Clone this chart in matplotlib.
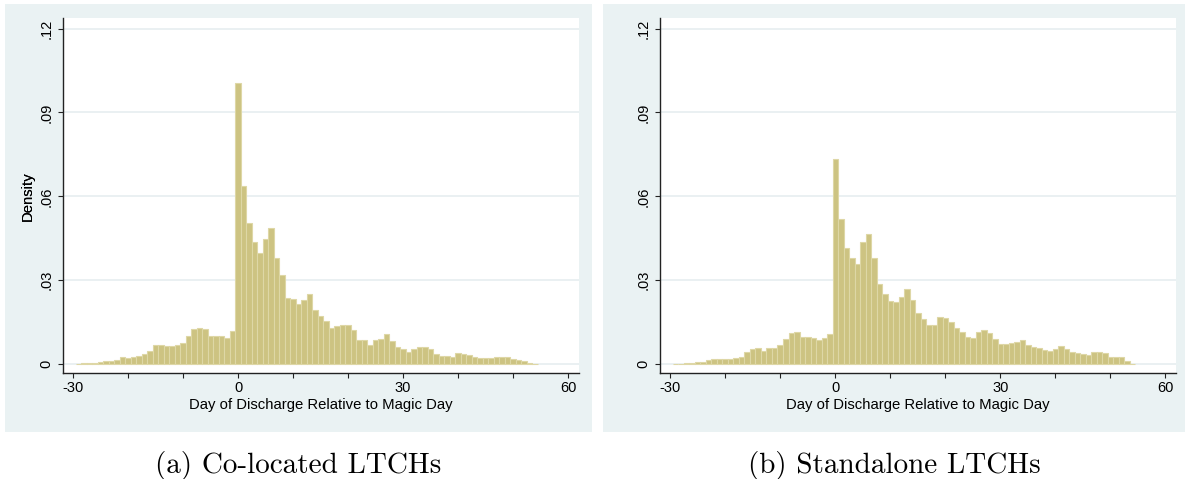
import numpy as np
import matplotlib.pyplot as plt
from matplotlib.patches import Rectangle

# days relative to magic day (bin centres)
days = list(range(-29, 55))

colocated = [
    0.0002, 0.0003, 0.0004, 0.0005, 0.0007, 0.00095, 0.0012, 0.0014, 0.0024, 0.0021,
    0.0025, 0.0030, 0.0035, 0.0048, 0.0068, 0.0069, 0.0063, 0.0063, 0.0067, 0.0074,
    0.0102, 0.0125, 0.0129, 0.0124, 0.0100, 0.0102, 0.0099, 0.0093, 0.0118,
    0.1007, 0.0638, 0.0505, 0.0438, 0.0399, 0.0448, 0.0486, 0.0381, 0.0317, 0.0238,
    0.0232, 0.0214, 0.0231, 0.0249, 0.0192, 0.0173, 0.0155, 0.0129, 0.0135, 0.0140,
    0.0140, 0.0122, 0.0087, 0.0087, 0.0069, 0.0085, 0.0091, 0.0106, 0.0084, 0.0061,
    0.0054, 0.0043, 0.0053, 0.0062, 0.0061, 0.0054, 0.0037, 0.0030, 0.0030, 0.0025,
    0.0041, 0.0037, 0.0032, 0.0025, 0.0022, 0.0020, 0.0020, 0.0025, 0.0027, 0.0024,
    0.0019, 0.0014, 0.0011, 0.0004, 0.0001,
]

standalone = [
    0.0001, 0.0002, 0.0004, 0.0004, 0.0006, 0.0008, 0.0013, 0.0017, 0.0018, 0.0018,
    0.0018, 0.0023, 0.0026, 0.0042, 0.0055, 0.0058, 0.0048, 0.0058, 0.0058, 0.0069,
    0.0089, 0.0111, 0.0115, 0.0098, 0.0096, 0.0094, 0.0086, 0.0094, 0.0108,
    0.0732, 0.0520, 0.0415, 0.0380, 0.0358, 0.0438, 0.0464, 0.0380, 0.0287, 0.0251,
    0.0225, 0.0221, 0.0239, 0.0269, 0.0228, 0.0184, 0.0161, 0.0140, 0.0140, 0.0169,
    0.0164, 0.0151, 0.0128, 0.0114, 0.0098, 0.0092, 0.0114, 0.0121, 0.0110, 0.0088,
    0.0072, 0.0072, 0.0076, 0.0079, 0.0085, 0.0069, 0.0061, 0.0057, 0.0049, 0.0047,
    0.0053, 0.0063, 0.0055, 0.0043, 0.0038, 0.0036, 0.0032, 0.0042, 0.0042, 0.0041,
    0.0027, 0.0024, 0.0025, 0.0010, 0.0002,
]

yticks = [0, 0.03, 0.06, 0.09, 0.12]
ytick_labels = ["0", ".03", ".06", ".09", ".12"]
xticks = list(range(-30, 61, 10))
xtick_labels = ["-30", "", "", "0", "", "", "30", "", "", "60"]
captions = ["(a) Co-located LTCHs", "(b) Standalone LTCHs"]

W, H = 1185, 479
bg = "#eaf2f3"
bar_fill = "#cdc382"
bar_edge = "#ded7a6"

fig = plt.figure(figsize=(W / 100, H / 100), dpi=100)

def px_rect(x0, y0, x1, y1):
    # pixel box (top-left origin) -> figure fraction [left, bottom, w, h]
    return [x0 / W, 1 - y1 / H, (x1 - x0) / W, (y1 - y0) / H]

panels = [
    dict(bg=(5, 4, 592, 432), ax=(63, 18, 579, 373.3), data=colocated, cap_x=298),
    dict(bg=(603, 4, 1185, 432), ax=(660, 18, 1176.5, 373.3), data=standalone, cap_x=894),
]

for p, cap in zip(panels, captions):
    l, b, w, h = px_rect(*p["bg"])
    fig.patches.append(Rectangle((l, b), w, h, transform=fig.transFigure,
                                 facecolor=bg, edgecolor="none", zorder=-10))
    ax = fig.add_axes(px_rect(*p["ax"]))
    ax.set_zorder(1)
    ax.set_facecolor("white")
    ax.bar(days, p["data"], width=1.0, color=bar_fill, edgecolor=bar_edge, linewidth=0.8)
    ax.set_xlim(-31.85, 62)
    ax.set_ylim(-0.0033, 0.1238)
    ax.set_axisbelow(True)
    ax.yaxis.grid(True, color="#e6eef0", linewidth=1.2)
    ax.set_yticks(yticks)
    ax.set_yticklabels(ytick_labels, rotation=90, va="center",
                       family="Liberation Sans", fontsize=10.5)
    ax.set_xticks(xticks)
    ax.set_xticklabels(xtick_labels, family="Liberation Sans", fontsize=10.5)
    ax.tick_params(direction="out", length=3.6, width=0.8, color="#222222", pad=2)
    ax.tick_params(axis="y", pad=3)
    for s in ["top", "right"]:
        ax.spines[s].set_visible(False)
    for s in ["left", "bottom"]:
        ax.spines[s].set_color("#222222")
        ax.spines[s].set_linewidth(1.0)
    ax.set_ylabel("Density", family="Liberation Sans", fontsize=10.7, va="center")
    ax.yaxis.set_label_coords((28 - p["ax"][0]) / (p["ax"][2] - p["ax"][0]), 0.5)
    ax.set_xlabel("Day of Discharge Relative to Magic Day", family="Liberation Sans",
                  fontsize=10.7, va="center")
    ax.xaxis.set_label_coords(0.5, -0.089)
    fig.text(p["cap_x"] / W, 1 - 465 / H, cap, family="cmr10", fontsize=21,
             ha="center", va="center")

fig.savefig("out.png", dpi=100, facecolor="white")
